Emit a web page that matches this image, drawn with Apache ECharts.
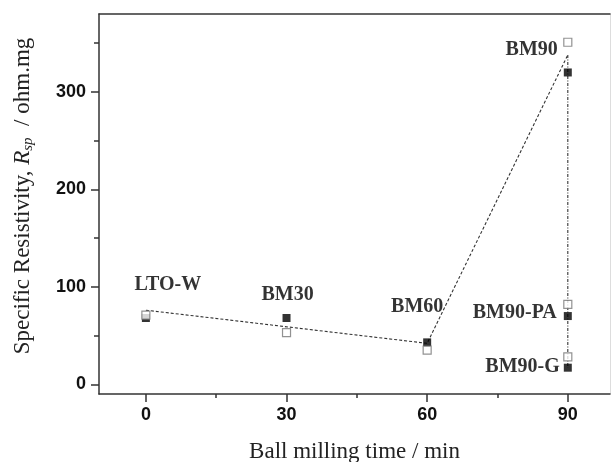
<!DOCTYPE html>
<html>
<head>
<meta charset="utf-8">
<script src="https://cdn.jsdelivr.net/npm/echarts@6/dist/echarts.min.js"></script>
<style>
  html, body { margin: 0; padding: 0; background: #fff; }
  #chart { width: 613px; height: 462px; }
</style>
</head>
<body>
<div id="chart"></div>
<script>
// Samples and their ball milling times (min)
const sampleNames = ['LTO-W', 'BM30', 'BM60', 'BM90', 'BM90-PA', 'BM90-G'];
const millingTimes = [0, 30, 60, 90, 90, 90];
// Specific resistivity (ohm.mg), two measurement sets
const filledValues = [68, 68, 43, 320, 70, 17];
const openValues = [71, 53, 35, 351, 82, 28];
// Guide lines
const trendTimes = [0, 60, 90];
const trendValues = [76, 42, 338];
const dropTimes = [90, 90];
const dropValues = [338, 17];
// Axis ticks
const xMajorTicks = [0, 30, 60, 90];
const xMinorTicks = [15, 45, 75];
const yMajorTicks = [0, 100, 200, 300];
const yMinorTicks = [50, 150, 250, 350];

const X_MIN = -10, X_MAX = 99, Y_MIN = -10, Y_MAX = 380;

// Label placement around each filled marker
const labelPlacement = {
  'LTO-W':   { align: 'center', offset: [22, -33] },
  'BM30':    { align: 'center', offset: [1, -23] },
  'BM60':    { align: 'center', offset: [-10, -36] },
  'BM90':    { align: 'right',  offset: [-10, -23] },
  'BM90-PA': { align: 'right',  offset: [-11, -3] },
  'BM90-G':  { align: 'right',  offset: [-8, -1] }
};

const axisColor = '#333';
const tickFont = { fontFamily: 'Liberation Sans', fontWeight: 'bold', fontSize: 18, color: '#111' };

function pairs(xs, ys) { return xs.map((x, i) => [x, ys[i]]); }

const chart = echarts.init(document.getElementById('chart'), null, { renderer: 'canvas' });

const option = {
  backgroundColor: '#fff',
  animation: false,
  grid: { left: 99, right: 3, top: 14, bottom: 68, containLabel: false, outerBoundsMode: 'none' },
  xAxis: [
    {
      type: 'value', min: X_MIN, max: X_MAX, position: 'bottom',
      name: 'Ball milling time / min', nameLocation: 'middle', nameGap: 46,
      nameTextStyle: { fontFamily: 'Liberation Serif', fontSize: 23, color: '#222' },
      axisLine: { show: true, onZero: false, lineStyle: { color: axisColor, width: 1.5 } },
      axisTick: { show: true, inside: false, length: 8, customValues: xMajorTicks, lineStyle: { color: axisColor, width: 1.5 } },
      axisLabel: Object.assign({ show: true, margin: 12, customValues: xMajorTicks }, tickFont),
      splitLine: { show: false }
    },
    {
      type: 'value', min: X_MIN, max: X_MAX, position: 'bottom',
      axisLine: { show: false, onZero: false },
      axisTick: { show: true, inside: false, length: 4, customValues: xMinorTicks, lineStyle: { color: axisColor, width: 1.5 } },
      axisLabel: { show: false, customValues: xMinorTicks },
      splitLine: { show: false }
    },
    {
      type: 'value', min: X_MIN, max: X_MAX, position: 'top',
      axisLine: { show: true, onZero: false, lineStyle: { color: axisColor, width: 1.5 } },
      axisTick: { show: false }, axisLabel: { show: false }, splitLine: { show: false }
    }
  ],
  yAxis: [
    {
      type: 'value', min: Y_MIN, max: Y_MAX, position: 'left',
      name: 'Specific Resistivity, {i|R}{sub|sp}  / ohm.mg', nameLocation: 'middle', nameGap: 63,
      nameTextStyle: {
        fontFamily: 'Liberation Serif', fontSize: 23, color: '#222', padding: [0, 0, 0, 16],
        rich: {
          i: { fontFamily: 'Liberation Serif', fontSize: 23, fontStyle: 'italic', color: '#222' },
          sub: { fontFamily: 'Liberation Serif', fontSize: 15, fontStyle: 'italic', color: '#222', padding: [12, 0, 0, 0] }
        }
      },
      axisLine: { show: true, onZero: false, lineStyle: { color: axisColor, width: 1.5 } },
      axisTick: { show: true, inside: false, length: 8, customValues: yMajorTicks, lineStyle: { color: axisColor, width: 1.5 } },
      axisLabel: Object.assign({ show: true, margin: 13, customValues: yMajorTicks }, tickFont),
      splitLine: { show: false }
    },
    {
      type: 'value', min: Y_MIN, max: Y_MAX, position: 'left',
      axisLine: { show: false, onZero: false },
      axisTick: { show: true, inside: false, length: 5, customValues: yMinorTicks, lineStyle: { color: axisColor, width: 1.5 } },
      axisLabel: { show: false, customValues: yMinorTicks },
      splitLine: { show: false }
    },
    {
      type: 'value', min: Y_MIN, max: Y_MAX, position: 'right',
      axisLine: { show: true, onZero: false, lineStyle: { color: '#ddd', width: 1 } },
      axisTick: { show: false }, axisLabel: { show: false }, splitLine: { show: false }
    }
  ],
  series: [
    {
      type: 'line', xAxisIndex: 0, yAxisIndex: 0,
      data: pairs(trendTimes, trendValues),
      symbol: 'none', z: 1,
      lineStyle: { color: '#333', width: 1.1, type: [3, 2] }
    },
    {
      type: 'line', xAxisIndex: 0, yAxisIndex: 0,
      data: pairs(dropTimes, dropValues),
      symbol: 'none', z: 1,
      lineStyle: { color: '#333', width: 1.1, type: [3, 1.5, 1, 1.5] }
    },
    {
      type: 'scatter', xAxisIndex: 0, yAxisIndex: 0,
      data: millingTimes.map((t, i) => ({
        value: [t, filledValues[i]],
        label: {
          show: true, formatter: sampleNames[i], position: 'inside',
          align: labelPlacement[sampleNames[i]].align, verticalAlign: 'middle',
          offset: labelPlacement[sampleNames[i]].offset,
          fontFamily: 'Liberation Serif', fontWeight: 'bold', fontSize: 20,
          color: '#000', textBorderWidth: 0
        }
      })),
      symbol: 'rect', symbolSize: 8, z: 3,
      itemStyle: { color: '#000' }
    },
    {
      type: 'scatter', xAxisIndex: 0, yAxisIndex: 0,
      data: pairs(millingTimes, openValues),
      symbol: 'rect', symbolSize: 8, z: 4,
      itemStyle: { color: '#fff', borderColor: '#777', borderWidth: 1.2 }
    }
  ]
};

chart.setOption(option);
</script>
</body>
</html>
